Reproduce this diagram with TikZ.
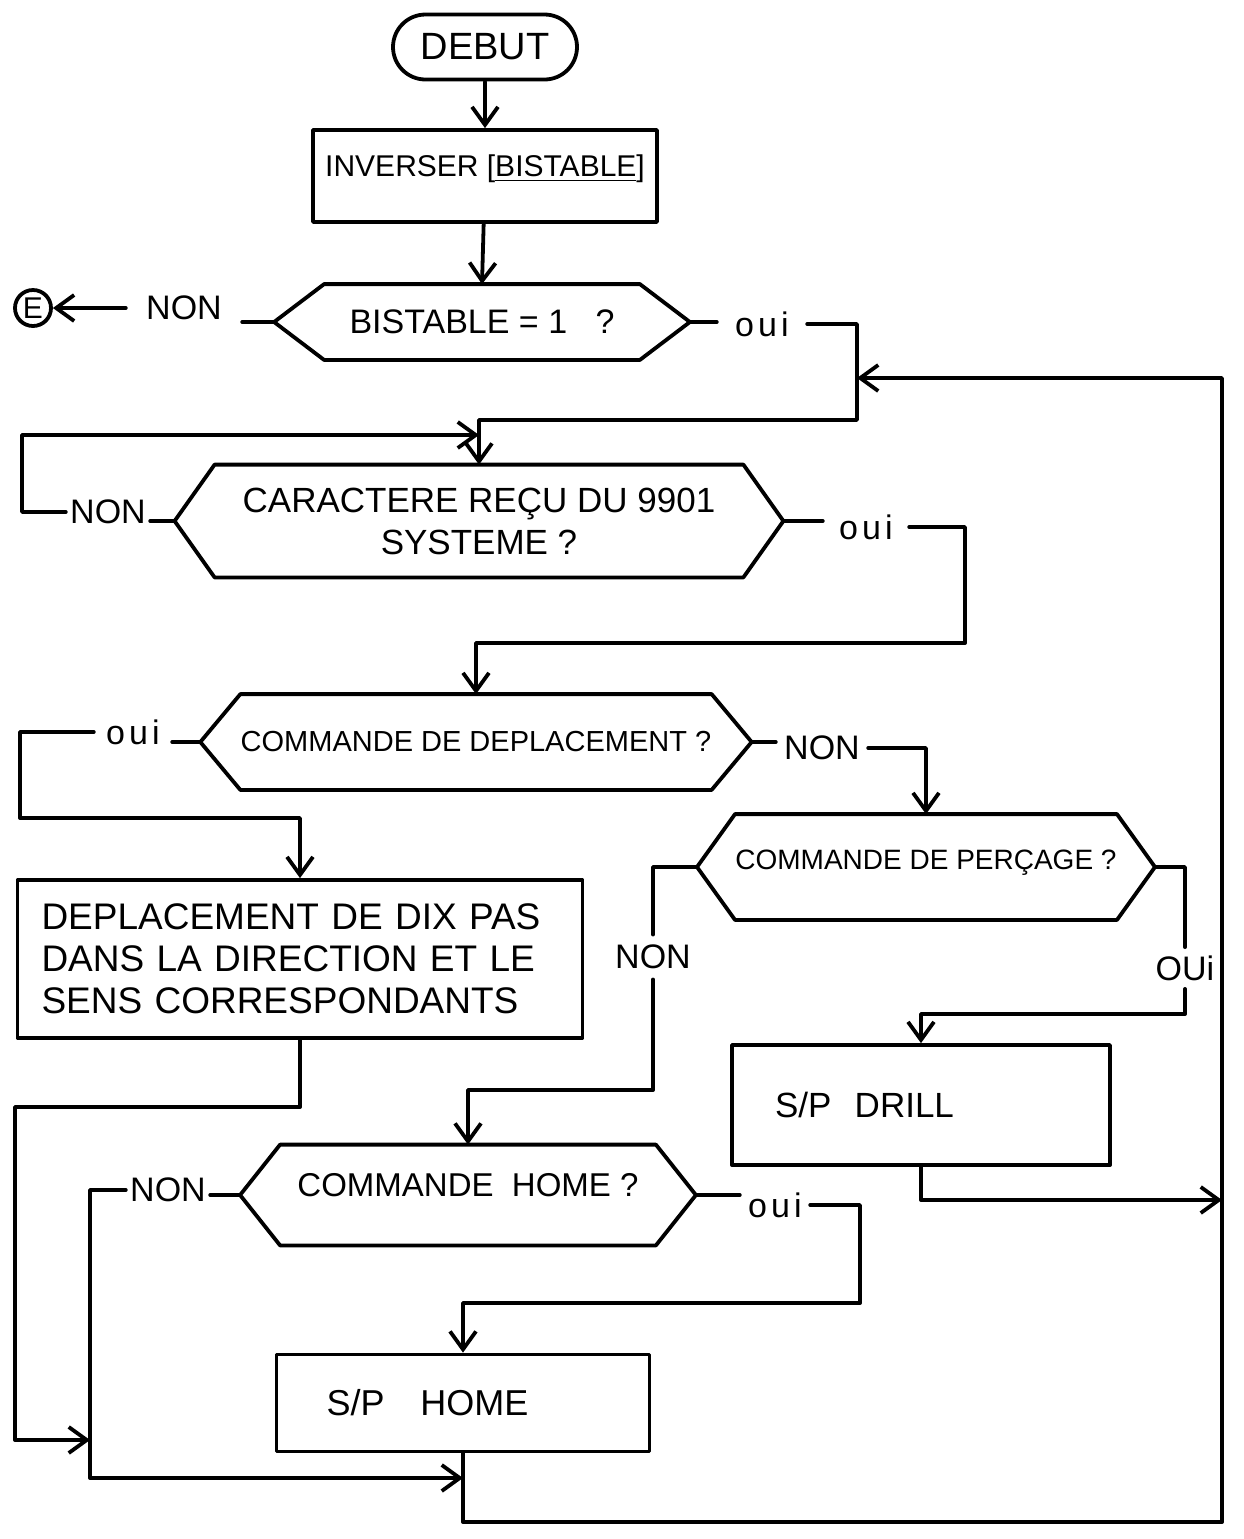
\documentclass[tikz,border=0pt]{standalone}
\usepackage{fontspec}
\setmainfont{Liberation Sans}
\newfontfamily\spacedfont[LetterSpace=12]{Liberation Sans}
\usetikzlibrary{arrows.meta,calc,shapes.misc}

% hexagonal decision frame around a (borderless) body node, tips at #1-l / #1-r
\newcommand\hexframe[2]{%
  \draw[flow] (#1.north west) -- (#1.north east)
    -- ($(#1.east)+(#2,0)$) coordinate (#1-r)
    -- (#1.south east) -- (#1.south west)
    -- ($(#1.west)+(-#2,0)$) coordinate (#1-l) -- cycle;}

\tikzset{
  flow/.style={line width=1.9pt, line join=round, line cap=round},
  arr/.style={flow, -{Straight Barb[length=9pt,width=13pt,line width=1.9pt]}},
  term/.style={draw, flow, rounded rectangle, inner sep=0pt,
    font=\fontsize{19}{22}\selectfont},
  stepbox/.style={draw, flow, rectangle, inner sep=0pt, align=center,
    font=\fontsize{16}{19}\selectfont},
  hexbody/.style={rectangle, inner sep=0pt, align=center,
    font=\fontsize{15}{20}\selectfont},
  lbl/.style={inner ysep=2pt, font=\fontsize{17}{20}\selectfont},
  ouilbl/.style={inner ysep=2pt, font=\spacedfont\fontsize{17}{20}\selectfont},
  connector/.style={draw, flow, circle, minimum size=18pt, inner sep=0pt,
    font=\fontsize{15}{18}\selectfont}
}

\begin{document}
\begin{tikzpicture}[x=0.5pt,y=-0.5pt]
\fill[white] (0,0) rectangle (1244,1539);
\useasboundingbox (0,0) rectangle (1244,1539);

% ---- blocks ----
\node[term, minimum width=92pt, minimum height=32.5pt] (debut) at (485,47) {DEBUT};
\node[stepbox, minimum width=172pt, minimum height=46pt,
  font=\fontsize{15}{18}\selectfont] (inv) at (485,176)
  {\raisebox{10pt}{INVERSER [\underline{BISTABLE}]}};

\node[hexbody, minimum width=157.5pt, minimum height=37.5pt,
  font=\fontsize{17}{20}\selectfont] (q1) at (482,322)
  {BISTABLE = 1 \ \ ?};
\hexframe{q1}{50}
\node[connector] (E) at (33,308) {E};

\node[hexbody, minimum width=264pt, minimum height=56pt,
  font=\fontsize{17.5}{21}\selectfont] (q2) at (479,521)
  {CARACTERE REÇU DU 9901\\SYSTEME ?};
\hexframe{q2}{40}

\node[hexbody, minimum width=226.5pt, minimum height=47.5pt,
  font=\fontsize{14.5}{18}\selectfont] (q3) at (476,742)
  {COMMANDE DE DEPLACEMENT ?};
\hexframe{q3}{40}

\node[hexbody, minimum width=186.5pt, minimum height=52.5pt,
  font=\fontsize{14}{18}\selectfont] (q4) at (926,867)
  {\raisebox{7pt}{COMMANDE DE PERÇAGE ?}};
\hexframe{q4}{38}

\node[stepbox, minimum width=282.5pt, minimum height=79pt, text width=258.5pt,
  align=left, inner xsep=12pt, font=\fontsize{18.5}{21}\selectfont] (dep) at (300,959)
  {DEPLACEMENT DE DIX PAS\\DANS LA DIRECTION ET LE\\SENS CORRESPONDANTS};

\node[stepbox, minimum width=189pt, minimum height=60pt, text width=146pt,
  align=left, inner xsep=21.5pt, font=\fontsize{17.5}{20}\selectfont] (drill) at (921,1105)
  {S/P \ DRILL};

\node[hexbody, minimum width=187.5pt, minimum height=50pt,
  font=\fontsize{16.5}{20}\selectfont] (q5) at (468,1195)
  {\raisebox{10pt}{COMMANDE \ HOME ?}};
\hexframe{q5}{40}

\node[stepbox, minimum width=186.5pt, minimum height=48.5pt, text width=136.5pt,
  align=left, inner xsep=25pt, font=\fontsize{18}{20}\selectfont] (homebox) at (463,1403)
  {S/P \ \ HOME};

% ---- branch labels ----
\node[lbl, inner xsep=10pt] (nonA) at (184,308) {NON};
\node[ouilbl, inner xsep=9pt] (ouiA) at (762,324) {oui};
\node[lbl, inner xsep=2pt] (nonB) at (108,512) {NON};
\node[ouilbl, inner xsep=8pt] (ouiB) at (866,527) {oui};
\node[ouilbl, inner xsep=6pt] (ouiC) at (133,732) {oui};
\node[lbl, inner xsep=4pt] (nonC) at (822,748) {NON};
\node[lbl, inner ysep=5pt] (nonD) at (653,957) {NON};
\node[lbl, inner ysep=4pt] (ouiD) at (1185,968) {OUi};
\node[lbl, inner xsep=2pt] (nonE) at (168,1190) {NON};
\node[ouilbl, inner xsep=4pt] (ouiE) at (775,1205) {oui};

% ---- routing points ----
\coordinate (j1) at (857,420);
\coordinate (lp) at (22,435);
\coordinate (j2) at (965,643);
\coordinate (j3) at (20,818);
\coordinate (j4) at (15,1107);
\coordinate (j5) at (15,1440);
\coordinate (j8) at (653,1090);
\coordinate (j9) at (1185,1014);
\coordinate (j10) at (1222,1200);
\coordinate (j11) at (90,1478);
\coordinate (j12) at (860,1303);
\coordinate (rb) at (1222,1522);
\coordinate (rt) at (1222,378);

% ---- connectors ----
\draw[arr] (debut) -- (inv);
\draw[arr] (inv) -- (q1.north);

\draw[flow] (q1-l) -- (q1-l -| nonA.east);
\draw[arr] (nonA.west) -- (E);
\draw[flow] (q1-r) -- (q1-r -| ouiA.west);
\draw[arr] (ouiA.east) -| (j1) -| (q2.north);

\draw[flow] (q2-l) -- (q2-l -| nonB.east);
\draw[arr] (nonB.west) -| (lp) -- (lp -| q2.north);
\draw[flow] (q2-r) -- (q2-r -| ouiB.west);
\draw[arr] (ouiB.east) -| (j2) -| (q3.north);

\draw[flow] (q3-l) -- (q3-l -| ouiC.east);
\draw[arr] (ouiC.west) -| (j3) -| (dep.north);
\draw[flow] (q3-r) -- (q3-r -| nonC.west);
\draw[arr] (nonC.east) -| (q4.north);

\draw[flow] (q4-l) -| (nonD.north);
\draw[arr] (nonD.south) -- (j8) -| (q5.north);
\draw[flow] (q4-r) -| (ouiD.north);
\draw[arr] (ouiD.south) -- (j9) -| (drill.north);

\draw[arr] (dep.south) |- (j4) -- (j5) -- (j5 -| j11);
\draw[arr] (drill.south) |- (j10);

\draw[flow] (q5-l) -- (q5-l -| nonE.east);
\draw[arr] (nonE.west) -| (j11) -- (j11 -| homebox.south);
\draw[flow] (q5-r) -- (q5-r -| ouiE.west);
\draw[arr] (ouiE.east) -| (j12) -| (homebox.north);

\draw[arr] (homebox.south) |- (rb) -- (rt) -- (j1 |- rt);
\end{tikzpicture}
\end{document}
